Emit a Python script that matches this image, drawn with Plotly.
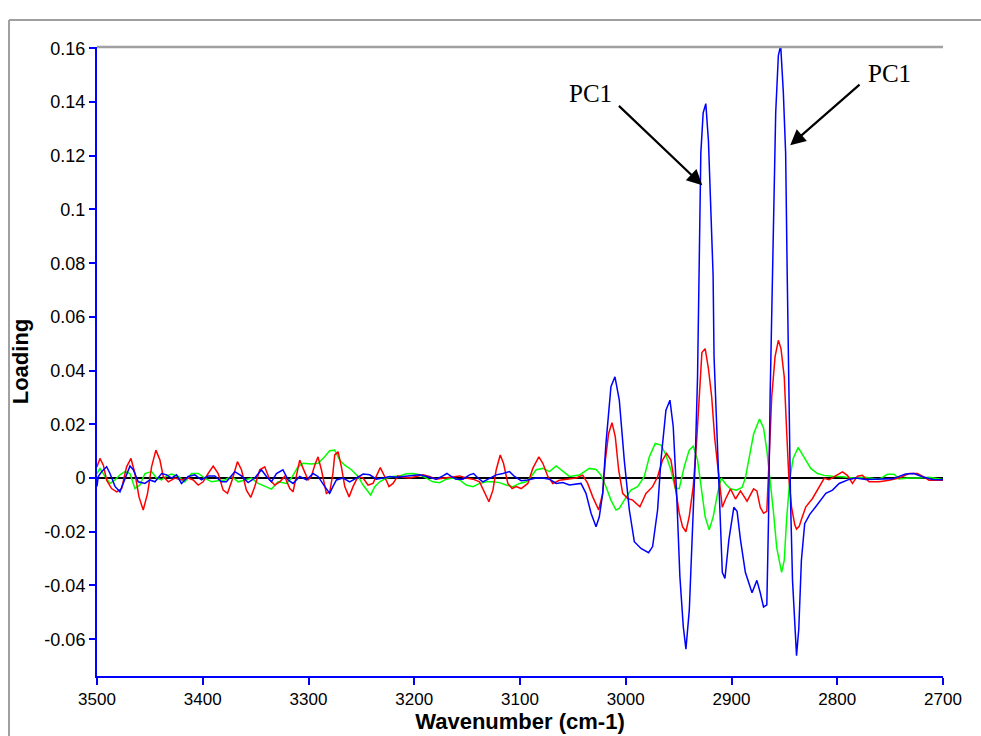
import plotly.graph_objects as go

# ---------------- data ----------------
wn_pc1 = [3500, 3498.8, 3495.6, 3490.9, 3487.7, 3483.0, 3478.3, 3473.6, 3468.8, 3465.7, 3461.0, 3454.7,
          3450.0, 3445.2, 3438.9, 3434.2, 3429.5, 3424.8, 3420.1, 3413.8, 3407.5, 3401.2, 3394.9, 3388.6,
          3382.3, 3377.6, 3369.7, 3363.4, 3357.1, 3350.8, 3344.5, 3339.8, 3335.0, 3330.3, 3324.2, 3319.3,
          3314.6, 3308.3, 3302.0, 3295.7, 3291.0, 3284.7, 3280.0, 3276.8, 3273.6, 3267.3, 3261.0, 3254.7,
          3248.4, 3242.1, 3235.8, 3229.5, 3223.3, 3217.0, 3204.4, 3194.9, 3185.5, 3179.2, 3172.9, 3169.1,
          3165.0, 3160.3, 3154.0, 3147.7, 3143.9, 3139.8, 3135.1, 3128.8, 3122.5, 3116.2, 3109.9, 3105.2,
          3098.9, 3092.6, 3084.7, 3078.4, 3072.1, 3065.8, 3059.5, 3053.3, 3042.3, 3037.6, 3032.8, 3028.1,
          3025.0, 3021.8, 3018.7, 3014.0, 3010.2, 3006.1, 3001.4, 2996.6, 2991.9, 2985.6, 2978.4, 2974.6,
          2969.9, 2966.7, 2962.0, 2958.2, 2955.1, 2951.9, 2948.8, 2945.6, 2943.1, 2939.9, 2936.8, 2934.3,
          2932.1, 2930.5, 2929.0, 2926.8, 2924.3, 2921.8, 2919.6, 2917.4, 2916.5, 2913.4, 2911.8, 2910.2,
          2908.7, 2906.2, 2902.5, 2897.8, 2894.7, 2891.5, 2886.9, 2880.6, 2876.0, 2872.8, 2869.7, 2866.6,
          2865.0, 2863.5, 2861.3, 2858.2, 2855.7, 2853.5, 2851.0, 2848.8, 2847.3, 2845.7, 2844.2, 2842.3,
          2840.1, 2838.5, 2836.4, 2833.9, 2830.8, 2826.0, 2820.0, 2815.0, 2810.8, 2804.5, 2798.2, 2788.8,
          2782.5, 2773.0, 2760.4, 2747.9, 2735.3, 2727.4, 2719.5, 2710.0, 2700.0]
load_pc1 = [-0.0031, 0.0006, 0.0024, 0.0042, 0.0017, -0.0031, -0.0051, -0.0007, 0.0045, 0.0031, -0.0014, -0.0020,
            -0.0007, -0.0014, 0.0017, 0.0012, 0.0, 0.0012, -0.0020, 0.0006, 0.0012, -0.0007, 0.0008, 0.0008,
            -0.0014, -0.0014, 0.0024, 0.0008, -0.0017, 0.0, 0.0031, 0.0006, -0.0014, 0.0017, 0.0031, -0.0007,
            -0.0020, 0.0006, -0.0007, 0.0017, 0.0006, -0.0031, -0.0057, -0.0031, -0.0007, 0.0, -0.0014, 0.0,
            0.0015, 0.0012, -0.0004, 0.0, 0.0006, 0.0003, 0.0008, 0.0012, 0.0003, -0.0004, 0.0008, 0.0017,
            0.0006, -0.0004, -0.0004, 0.0012, 0.0017, 0.0, -0.0014, 0.0, 0.0012, 0.0017, 0.0024, 0.0006,
            -0.0010, -0.0007, 0.0, 0.0, -0.0004, -0.0020, -0.0017, -0.0026, -0.0020, -0.0057, -0.0131, -0.0181,
            -0.0144, -0.0057, 0.0129, 0.0340, 0.0377, 0.0290, 0.0067, -0.0119, -0.0237, -0.0262, -0.0278, -0.0255,
            -0.0119, 0.0067, 0.0253, 0.0290, 0.0191, -0.0057, -0.0367, -0.0553, -0.0637, -0.0491, -0.0181, 0.0067,
            0.0377, 0.0755, 0.1210, 0.1360, 0.1394, 0.1255, 0.0982, 0.0755, 0.0452, 0.0149, -0.0003, -0.0154,
            -0.0351, -0.0374, -0.0230, -0.0109, -0.0124, -0.0230, -0.0351, -0.0427, -0.0381, -0.0427, -0.0480, -0.0472,
            -0.0154, 0.0301, 0.0755, 0.1360, 0.1573, 0.1611, 0.1437, 0.1210, 0.0755, 0.0301, -0.0078, -0.0381,
            -0.0578, -0.0661, -0.0563, -0.0306, -0.0170, -0.0135, -0.0105, -0.0080, -0.0057, -0.0045, -0.0020, -0.0005,
            0.0, -0.0005, -0.0005, -0.0003, 0.0015, 0.0017, 0.0005, -0.0005, -0.0006]

wn_pc2 = [3500, 3497.2, 3494.0, 3490.9, 3486.2, 3481.4, 3476.7, 3472.0, 3467.9, 3464.1, 3460.3, 3456.3,
          3452.2, 3448.4, 3444.3, 3440.5, 3437.4, 3432.6, 3426.3, 3420.1, 3413.8, 3409.0, 3404.3, 3399.6,
          3394.9, 3390.1, 3385.4, 3380.7, 3376.6, 3372.2, 3367.2, 3363.4, 3358.7, 3354.6, 3350.8, 3346.1,
          3341.4, 3336.6, 3331.9, 3327.2, 3322.5, 3317.7, 3314.6, 3311.4, 3308.3, 3305.1, 3300.4, 3297.3,
          3294.1, 3291.0, 3287.8, 3283.1, 3279.9, 3277.0, 3275.2, 3272.0, 3268.9, 3265.7, 3261.6, 3257.9,
          3253.1, 3248.4, 3243.7, 3239.0, 3234.3, 3232.1, 3228.0, 3223.9, 3220.1, 3215.4, 3210.6, 3204.4,
          3198.1, 3191.8, 3185.5, 3179.2, 3171.3, 3163.4, 3157.1, 3150.8, 3144.5, 3138.2, 3133.5, 3129.4,
          3125.6, 3122.5, 3118.7, 3115.6, 3111.5, 3107.4, 3103.6, 3098.9, 3092.6, 3087.9, 3082.2, 3078.4,
          3073.7, 3069.0, 3062.7, 3056.4, 3047.0, 3040.7, 3036.0, 3031.3, 3025.6, 3021.8, 3019.3, 3016.2,
          3013.0, 3009.9, 3006.7, 3002.9, 2998.2, 2993.5, 2986.6, 2980.9, 2974.6, 2969.9, 2965.2, 2961.4,
          2957.3, 2953.2, 2949.4, 2946.3, 2943.1, 2940.0, 2936.2, 2933.1, 2929.9, 2928.0, 2924.9, 2921.8,
          2918.7, 2915.9, 2913.4, 2911.2, 2908.7, 2905.6, 2900.9, 2896.2, 2891.5, 2885.3, 2879.1, 2876.0,
          2872.8, 2869.7, 2866.6, 2864.4, 2862.0, 2858.8, 2855.7, 2853.2, 2850.1, 2847.9, 2845.7, 2843.2,
          2840.1, 2838.5, 2836.0, 2833.5, 2829.7, 2823.4, 2817.1, 2812.4, 2807.7, 2802.9, 2798.2, 2795.1,
          2790.4, 2785.6, 2780.9, 2776.2, 2769.9, 2760.4, 2751.0, 2741.6, 2732.1, 2724.2, 2719.5, 2713.2,
          2700.0]
load_pc2 = [0.0042, 0.0073, 0.0048, -0.0008, -0.0039, -0.0051, -0.0039, 0.0042, 0.0073, 0.0017, -0.0070, -0.0119,
            -0.0057, 0.0042, 0.0104, 0.0067, 0.0006, -0.0014, 0.0, -0.0007, 0.0, -0.0007, -0.0026, -0.0014,
            0.0017, 0.0045, 0.0017, -0.0045, -0.0057, -0.0007, 0.0061, 0.0031, -0.0045, -0.0072, -0.0031, 0.0031,
            0.0042, -0.0007, -0.0026, -0.0014, 0.0006, -0.0039, -0.0051, 0.0006, 0.0067, 0.0036, -0.0007, 0.0006,
            0.0048, 0.0079, 0.0031, -0.0057, -0.0051, 0.0015, 0.0086, 0.0098, 0.0042, -0.0032, -0.0070, -0.0032,
            0.0006, 0.0, -0.0026, -0.0020, 0.0024, 0.0039, 0.0006, -0.0032, -0.0020, 0.0008, 0.0003, 0.0,
            0.0006, 0.0012, 0.0006, -0.0004, 0.0, 0.0003, 0.0008, 0.0, -0.0004, -0.0014, -0.0057, -0.0088,
            -0.0045, 0.0031, 0.0086, 0.0055, -0.0020, -0.0039, -0.0032, -0.0039, -0.0020, 0.0036, 0.0079, 0.0055,
            0.0006, -0.0020, -0.0008, -0.0004, 0.0, 0.0011, -0.0020, -0.0069, -0.0119, -0.0057, 0.0067, 0.0166,
            0.0206, 0.0154, 0.0030, -0.0057, -0.0076, -0.0082, -0.0107, -0.0057, -0.0032, 0.0005, 0.0067, 0.0092,
            0.0067, -0.0032, -0.0131, -0.0181, -0.0200, -0.0144, -0.0032, 0.0129, 0.0315, 0.0467, 0.0482, 0.0407,
            0.0301, 0.0149, 0.0058, -0.0033, -0.0109, -0.0078, -0.0040, -0.0078, -0.0048, -0.0086, -0.0040, -0.0048,
            -0.0109, -0.0131, -0.0124, 0.0073, 0.0301, 0.0452, 0.0513, 0.0482, 0.0376, 0.0179, -0.0003, -0.0109,
            -0.0175, -0.0190, -0.0180, -0.0150, -0.0107, -0.0076, -0.0032, -0.0001, -0.0006, 0.0005, 0.0017, 0.0023,
            0.0010, -0.0020, 0.0007, 0.0010, -0.0014, -0.0014, -0.0008, 0.0, 0.0017, 0.0017, 0.0007, -0.0008,
            -0.0008]

wn_pc3 = [3500, 3497.2, 3492.5, 3487.7, 3483.0, 3478.3, 3473.6, 3468.8, 3464.1, 3459.4, 3454.7, 3448.4,
          3443.7, 3438.9, 3434.2, 3429.5, 3423.2, 3416.9, 3410.6, 3404.3, 3398.0, 3391.7, 3385.4, 3379.1,
          3372.8, 3366.5, 3360.2, 3353.9, 3347.6, 3341.4, 3335.0, 3328.8, 3320.9, 3316.2, 3309.9, 3305.1,
          3297.3, 3291.0, 3284.7, 3280.0, 3275.2, 3270.5, 3265.7, 3259.4, 3253.1, 3248.4, 3243.7, 3241.2,
          3237.4, 3232.7, 3226.4, 3220.1, 3213.8, 3207.5, 3201.2, 3194.9, 3188.6, 3182.3, 3176.0, 3169.7,
          3163.4, 3157.1, 3150.8, 3144.5, 3138.2, 3131.9, 3125.6, 3119.4, 3113.1, 3106.8, 3100.4, 3094.2,
          3089.4, 3084.7, 3078.4, 3072.1, 3065.8, 3059.5, 3053.3, 3043.9, 3034.4, 3028.1, 3023.4, 3018.7,
          3014.0, 3009.2, 3006.1, 3001.4, 2995.1, 2988.8, 2982.5, 2977.7, 2972.1, 2966.7, 2962.0, 2957.3,
          2953.2, 2949.4, 2944.7, 2940.0, 2936.2, 2932.1, 2929.0, 2924.9, 2921.1, 2917.3, 2913.2, 2909.7,
          2905.0, 2900.9, 2895.5, 2890.0, 2886.9, 2883.7, 2879.1, 2873.5, 2869.7, 2866.6, 2863.5, 2860.4,
          2857.2, 2852.6, 2850.1, 2847.9, 2844.8, 2841.7, 2837.0, 2833.2, 2829.7, 2825.0, 2818.7, 2812.4,
          2804.5, 2795.1, 2785.6, 2773.0, 2760.4, 2752.6, 2746.3, 2741.6, 2732.1, 2722.7, 2713.2, 2700.0]
load_pc3 = [0.0017, 0.0036, 0.0006, -0.0020, -0.0007, 0.0012, 0.0024, 0.0017, -0.0039, -0.0026, 0.0017, 0.0024,
            0.0, -0.0007, 0.0008, 0.0015, 0.0006, -0.0014, 0.0017, 0.0017, 0.0, -0.0014, -0.0010, -0.0007,
            0.0006, -0.0014, -0.0007, 0.0, -0.0020, -0.0031, -0.0041, -0.0014, -0.0020, 0.0, 0.0042, 0.0055,
            0.0052, 0.0055, 0.0079, 0.0102, 0.0104, 0.0067, 0.0048, 0.0031, 0.0006, -0.0026, -0.0051, -0.0063,
            -0.0032, -0.0014, 0.0, 0.0006, 0.0008, 0.0016, 0.0017, 0.0012, 0.0, -0.0014, -0.0017, -0.0004,
            0.0, -0.0007, -0.0026, -0.0032, -0.0020, -0.0014, -0.0014, -0.0017, -0.0026, -0.0032, -0.0020, -0.0014,
            0.0006, 0.0031, 0.0036, 0.0024, 0.0045, 0.0024, 0.0006, 0.0011, 0.0036, 0.0032, 0.0011, -0.0032,
            -0.0082, -0.0119, -0.0113, -0.0082, -0.0045, -0.0032, 0.0005, 0.0079, 0.0129, 0.0123, 0.0086, 0.0030,
            -0.0039, -0.0039, 0.0042, 0.0104, 0.0119, 0.0067, -0.0032, -0.0144, -0.0193, -0.0144, -0.0057, 0.0,
            -0.0025, -0.0040, -0.0045, -0.0035, 0.0, 0.0073, 0.0164, 0.0220, 0.0187, 0.0104, 0.0, -0.0124,
            -0.0260, -0.0351, -0.0306, -0.0154, -0.0003, 0.0073, 0.0114, 0.0090, 0.0067, 0.0036, 0.0017, 0.0010,
            0.0007, 0.0005, 0.0, 0.0003, -0.0005, 0.0014, 0.0014, -0.0003, 0.0, 0.0, 0.0003, -0.0005]

x_ticks = [3500, 3400, 3300, 3200, 3100, 3000, 2900, 2800, 2700]
y_ticks = [0.16, 0.14, 0.12, 0.1, 0.08, 0.06, 0.04, 0.02, 0, -0.02, -0.04, -0.06]
y_tick_text = ["0.16", "0.14", "0.12", "0.1", "0.08", "0.06", "0.04", "0.02", "0", "-0.02", "-0.04", "-0.06"]

# ---------------- figure ----------------
fig = go.Figure()
fig.add_trace(go.Scatter(x=wn_pc3, y=load_pc3, mode="lines", line=dict(color="#00ff00", width=1.5),
                         name="PC3", showlegend=False))
fig.add_trace(go.Scatter(x=wn_pc2, y=load_pc2, mode="lines", line=dict(color="#ff0000", width=1.5),
                         name="PC2", showlegend=False))
fig.add_trace(go.Scatter(x=wn_pc1, y=load_pc1, mode="lines", line=dict(color="#0000ff", width=1.5),
                         name="PC1", showlegend=False))

axis_font = dict(family="Liberation Sans, Arial, sans-serif", color="#000000")

fig.update_xaxes(
    range=[3500, 2700], tickvals=x_ticks, ticktext=[str(v) for v in x_ticks],
    showgrid=False, zeroline=False, showline=True, linecolor="#0000ff", linewidth=2,
    ticks="outside", ticklen=7, tickwidth=1.5, tickcolor="#0000ff",
    tickfont=dict(size=17, **axis_font),
    title=dict(text="Wavenumber (cm-1)", font=dict(size=22, weight="bold", **axis_font), standoff=5),
)
fig.update_yaxes(
    range=[-0.0737, 0.1605], tickvals=y_ticks, ticktext=y_tick_text,
    showgrid=False, zeroline=True, zerolinecolor="#000000", zerolinewidth=1.5,
    showline=True, linecolor="#0000ff", linewidth=2,
    ticks="outside", ticklen=6, tickwidth=1.5, tickcolor="#0000ff",
    tickfont=dict(size=18, **axis_font),
    title=dict(text="Loading", font=dict(size=22, weight="bold", **axis_font), standoff=10),
)

shapes = [
    # outer grey frame (left and top edges)
    dict(type="line", xref="paper", yref="paper", x0=-0.104, x1=-0.104, y0=1.043, y1=-0.2,
         line=dict(color="#a0a0a0", width=2)),
    dict(type="line", xref="paper", yref="paper", x0=-0.104, x1=1.1, y0=1.043, y1=1.043,
         line=dict(color="#a0a0a0", width=2)),
    # grey top border of the plot area
    dict(type="line", xref="paper", yref="paper", x0=0, x1=1, y0=1.0, y1=1.0,
         line=dict(color="#a0a0a0", width=2.5)),
]

ann_font = dict(family="Liberation Serif, Times New Roman, serif", size=25, color="#000000")
annotations = [
    dict(x=2927.6, y=0.109, ax=3007.9, ay=0.1391, xref="x", yref="y", axref="x", ayref="y",
         text="", showarrow=True, arrowhead=2, arrowsize=1.4, arrowwidth=2.2, arrowcolor="#000000"),
    dict(x=2844.5, y=0.1239, ax=2777.5, ay=0.147, xref="x", yref="y", axref="x", ayref="y",
         text="", showarrow=True, arrowhead=2, arrowsize=1.4, arrowwidth=2.2, arrowcolor="#000000"),
    dict(x=3033.4, y=0.1432, xref="x", yref="y", text="PC1", showarrow=False, font=ann_font),
    dict(x=2751.0, y=0.1507, xref="x", yref="y", text="PC1", showarrow=False, font=ann_font),
]

fig.update_layout(
    width=981, height=736,
    margin=dict(l=97, r=38, t=47, b=60, autoexpand=False),
    paper_bgcolor="#ffffff", plot_bgcolor="#ffffff",
    shapes=shapes, annotations=annotations,
)

fig.write_html("out.html")
